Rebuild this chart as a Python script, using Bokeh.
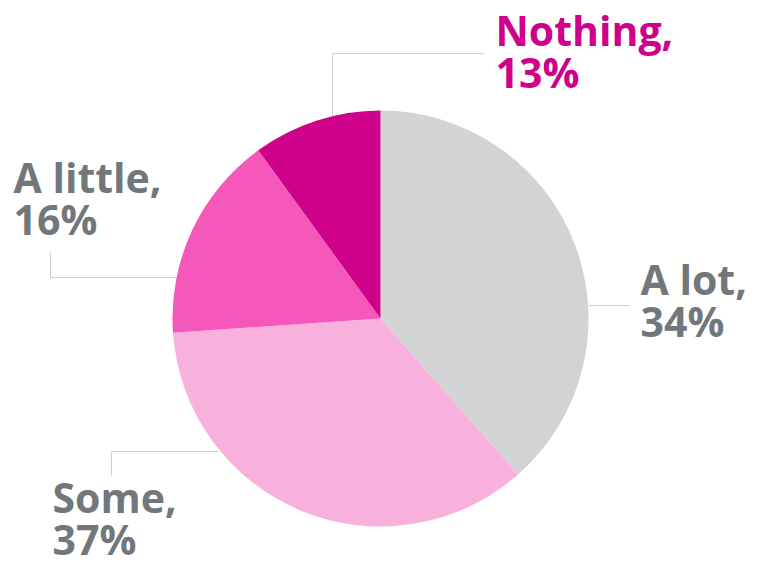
import math
from bokeh.plotting import figure
from bokeh.models import Range1d, ColumnDataSource
from bokeh.core.properties import value
from bokeh.embed import file_html
from bokeh.resources import INLINE

# ---- data (slice shares as drawn, and the printed labels) ----
categories = ["A lot", "Some", "A little", "Nothing"]
drawn_share = [38.5, 35.4, 16.1, 10.0]
label_pct = [34, 37, 16, 13]
colors = ["#D1D3D4", "#F8B1DD", "#F657BA", "#CF0089"]
text_colors = ["#72777C", "#72777C", "#72777C", "#CF0089"]

# ---- layout (figure pixel space) ----
W, H = 763, 565

def X(px):
    return px

def Y(py):
    return H - py

cx, cy, R = X(380), Y(318), 208

# label anchors: left x, top of first line (image coords)
label_xy = [(640, 278), (52, 496), (13, 176), (495, 29)]
line_gap = 42
# leader lines (image coords)
leaders = [
    [(588, 305), (629, 305)],
    [(218, 451), (111, 451), (111, 475)],
    [(175, 277), (50, 277), (50, 252)],
    [(332, 116), (332, 53), (483, 53)],
]

p = figure(width=W, height=H, output_backend="svg", toolbar_location=None,
           x_range=Range1d(0, W), y_range=Range1d(0, H),
           min_border=0, outline_line_color=None)
p.axis.visible = False
p.grid.visible = False
p.background_fill_color = "white"
p.border_fill_color = "white"

total = sum(drawn_share)
starts, ends = [], []
acc = 0.0
for s in drawn_share:
    a0 = math.pi / 2 - 2 * math.pi * acc / total
    acc += s
    a1 = math.pi / 2 - 2 * math.pi * acc / total
    starts.append(a0)
    ends.append(a1)

src = ColumnDataSource(dict(start=starts, end=ends, color=colors,
                            x=[cx] * 4, y=[cy] * 4))
p.wedge(x="x", y="y", radius=R, start_angle="start", end_angle="end",
        direction="clock", fill_color="color", line_color=None, source=src)

for pts in leaders:
    p.line([X(a) for a, b in pts], [Y(b) for a, b in pts],
           line_color="#CCCCCC", line_width=1)

l1x, l1y, l2y, t1, t2, tc = [], [], [], [], [], []
for cat, pct, (lx, ly), c in zip(categories, label_pct, label_xy, text_colors):
    l1x.append(X(lx))
    l1y.append(Y(ly))
    l2y.append(Y(ly + line_gap))
    t1.append(cat + ",")
    t2.append(f"{pct}%")
    tc.append(c)

tsrc = ColumnDataSource(dict(x=l1x, y1=l1y, y2=l2y, t1=t1, t2=t2, c=tc))
for ycol, tcol in (("y1", "t1"), ("y2", "t2")):
    p.text(x="x", y=ycol, text=tcol, source=tsrc, text_color="c",
           text_font=value("Open Sans"), text_font_style="bold",
           text_font_size="41px", text_baseline="alphabetic",
           text_align="left")

open("out.html", "w").write(file_html(p, INLINE))
